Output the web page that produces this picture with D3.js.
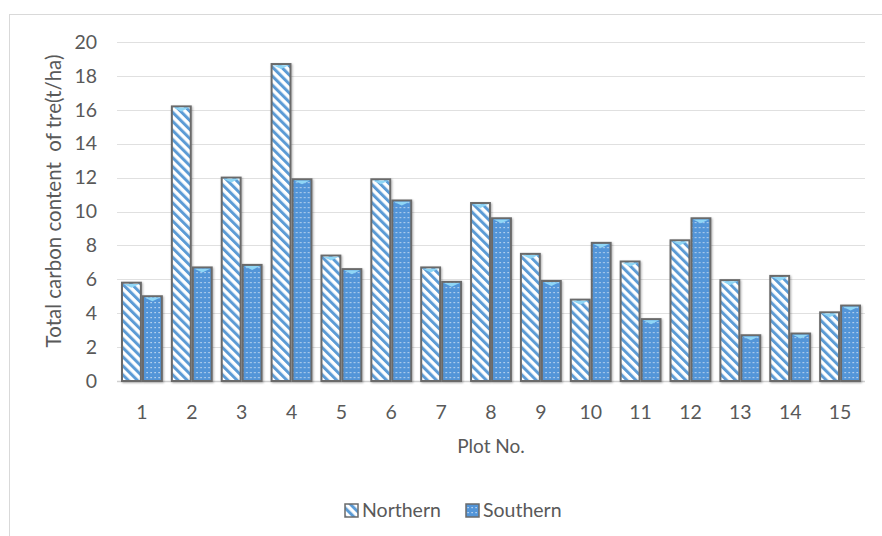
<!DOCTYPE html>
<html>
<head>
<meta charset="utf-8">
<script src="https://cdn.jsdelivr.net/npm/d3@7"></script>
<style>
  html, body { margin: 0; padding: 0; background: #ffffff; }
  svg { display: block; }
  text { font-family: Lato, "Open Sans", sans-serif; fill: #595959; }
</style>
</head>
<body>
<svg id="chart" width="882" height="536"></svg>
<script>
// Plot numbers and tree carbon content (t/ha) per slope
const plots = ["1","2","3","4","5","6","7","8","9","10","11","12","13","14","15"];
const northern = [5.8, 16.2, 12.0, 18.7, 7.4, 11.9, 6.7, 10.5, 7.5, 4.8, 7.05, 8.3, 5.95, 6.2, 4.05];
const southern = [5.0, 6.7, 6.85, 11.9, 6.6, 10.65, 5.85, 9.6, 5.9, 8.15, 3.65, 9.6, 2.7, 2.8, 4.45];
const seriesNames = ["Northern", "Southern"];
const yTicks = [0, 2, 4, 6, 8, 10, 12, 14, 16, 18, 20];

const svg = d3.select("#chart");

// Frame around the chart area
svg.append("rect")
  .attr("x", 9.5).attr("y", 14.5)
  .attr("width", 900).attr("height", 600)
  .attr("fill", "#ffffff").attr("stroke", "#d9d9d9").attr("stroke-width", 1);

// Fill patterns: diagonal stripes and dotted blue
const defs = svg.append("defs");
const stripe = defs.append("pattern")
  .attr("id", "stripes").attr("patternUnits", "userSpaceOnUse")
  .attr("width", 6.4).attr("height", 6.4)
  .attr("patternTransform", "rotate(-45)");
stripe.append("rect").attr("width", 6.4).attr("height", 6.4).attr("fill", "#ffffff");
stripe.append("rect").attr("width", 3).attr("height", 6.4).attr("fill", "#5b9bd5");

const dots = defs.append("pattern")
  .attr("id", "dots").attr("patternUnits", "userSpaceOnUse")
  .attr("width", 4).attr("height", 5);
dots.append("rect").attr("width", 4).attr("height", 5).attr("fill", "#5395d8");
dots.append("rect").attr("x", 1.5).attr("y", 2).attr("width", 1.2).attr("height", 1.2)
  .attr("fill", "#ffffff").attr("opacity", 0.8);

const shadow = defs.append("filter").attr("id", "shadow")
  .attr("x", "-30%").attr("y", "-10%").attr("width", "160%").attr("height", "120%");
shadow.append("feDropShadow").attr("dx", 1).attr("dy", 1).attr("stdDeviation", 0.8)
  .attr("flood-color", "#000000").attr("flood-opacity", 0.3);

const fills = { Northern: "url(#stripes)", Southern: "url(#dots)" };

// Scales
const x0 = d3.scaleBand().domain(plots).range([117, 865]).padding(0);
const x1 = d3.scaleBand().domain(seriesNames).range([5, x0.bandwidth() - 5]).paddingInner(0.1);
const y = d3.scaleLinear().domain([0, 20]).range([381, 42]);

// Horizontal gridlines
svg.append("g").selectAll("line").data(yTicks).join("line")
  .attr("x1", 117).attr("x2", 865)
  .attr("y1", d => Math.round(y(d)) + 0.5).attr("y2", d => Math.round(y(d)) + 0.5)
  .attr("stroke", d => d === 0 ? "#d0d0d0" : "#e0e0e0")
  .attr("stroke-width", d => d === 0 ? 1.5 : 1);

// Y axis labels
const yAxis = d3.axisLeft(y).tickValues(yTicks).tickSize(0).tickPadding(0);
const gy = svg.append("g").attr("transform", "translate(97,0)").call(yAxis);
gy.select(".domain").remove();
gy.selectAll("text").attr("font-size", 19.5).attr("fill", "#595959")
  .style("font-family", "Lato, 'Open Sans', sans-serif");

// X axis labels
const xAxis = d3.axisBottom(x0).tickSize(0).tickPadding(0);
const gx = svg.append("g").attr("transform", "translate(0,405)").call(xAxis);
gx.select(".domain").remove();
gx.selectAll("text").attr("font-size", 19.5).attr("fill", "#595959")
  .style("font-family", "Lato, 'Open Sans', sans-serif");

// Bars
const rows = plots.map((p, i) => ({ plot: p, values: [
  { key: "Northern", value: northern[i] },
  { key: "Southern", value: southern[i] }
]}));

const groups = svg.append("g").selectAll("g").data(rows).join("g")
  .attr("transform", d => `translate(${x0(d.plot)},0)`);

const bars = groups.selectAll("g.bar").data(d => d.values).join("g").attr("class", "bar");
bars.append("rect")
  .attr("x", d => x1(d.key))
  .attr("y", d => y(d.value))
  .attr("width", x1.bandwidth())
  .attr("height", d => y(0) - y(d.value))
  .attr("fill", d => fills[d.key])
  .attr("stroke", "#6b6b6b").attr("stroke-width", 2)
  .attr("filter", "url(#shadow)");
// bevel highlight at the top of each bar
bars.append("path")
  .attr("d", d => {
    const bx = x1(d.key), bw = x1.bandwidth(), by = y(d.value);
    return `M${bx + 1.5},${by + 1.2}L${bx + bw - 1.5},${by + 1.2}L${bx + bw / 2},${by + 5}Z`;
  })
  .attr("fill", "#8fd6f6");

// Axis titles
svg.append("text")
  .attr("transform", "translate(61,201) rotate(-90)")
  .attr("text-anchor", "middle").attr("font-size", 20.5)
  .text("Total carbon content\u00a0 of tre(t/ha)");

svg.append("text")
  .attr("x", 491).attr("y", 453)
  .attr("text-anchor", "middle").attr("font-size", 19)
  .text("Plot No.");

// Legend
const legend = svg.append("g").attr("transform", "translate(0,510)");
const legendItems = [
  { key: "Northern", x: 345 },
  { key: "Southern", x: 466 }
];
const li = legend.selectAll("g").data(legendItems).join("g")
  .attr("transform", d => `translate(${d.x},0)`);
li.append("rect")
  .attr("x", 0).attr("y", -6).attr("width", 13).attr("height", 13)
  .attr("fill", d => fills[d.key]).attr("stroke", "#6b6b6b").attr("stroke-width", 1.5);
li.append("text")
  .attr("x", 17).attr("y", 7).attr("font-size", 19.5)
  .text(d => d.key);
</script>
</body>
</html>
